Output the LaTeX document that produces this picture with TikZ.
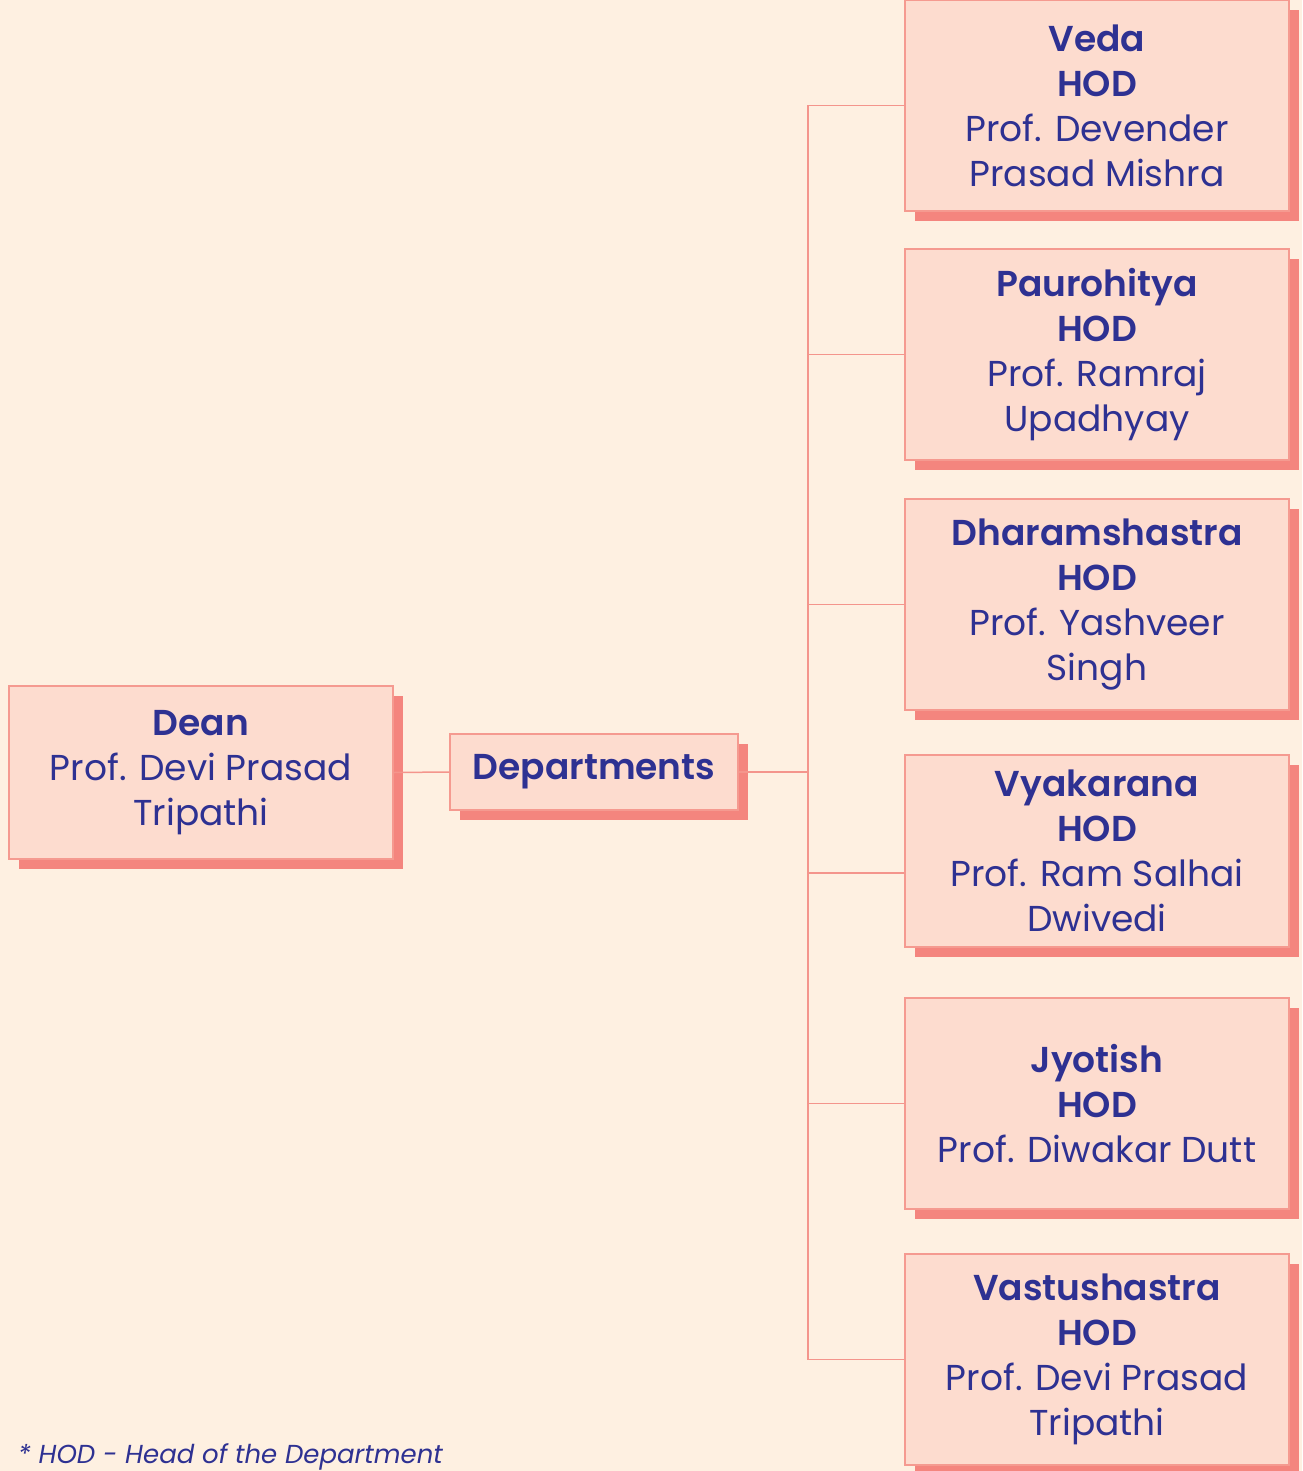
\documentclass[tikz,border=0pt]{standalone}
\usepackage{fontspec}
\setmainfont{Poppins}[BoldFont = {Poppins SemiBold}]
\usepackage{tikz}
\usetikzlibrary{shadows}

\definecolor{bgcream}{HTML}{FEF0E1}
\definecolor{boxfill}{HTML}{FDDCCF}
\definecolor{boxline}{HTML}{F59A90}
\definecolor{shadowred}{HTML}{F4857E}
\definecolor{navy}{HTML}{2E3192}
\definecolor{linkred}{HTML}{F4958C}

\tikzset{
  orgbox/.style = {draw = boxline, fill = boxfill, line width = 1.5pt, inner sep = 0pt,
                   align = center, text = navy, font = \fontsize{36}{45}\selectfont,
                   drop shadow = {shadow xshift = 10pt, shadow yshift = -10pt,
                                  fill = shadowred, opacity = 1}},
  deptbox/.style = {orgbox, minimum width = 384pt, minimum height = 211pt},
  link/.style = {draw = linkred, line width = 1.5pt}
}

\begin{document}
\begin{tikzpicture}[x = 1pt, y = -1pt]
        \fill[color = bgcream] (0,0) rectangle (1302,1471);
        \useasboundingbox (0,0) rectangle (1302,1471);
        % dean and departments
        \node[orgbox, minimum width = 384pt, minimum height = 173pt] (dean) at (201,772.5)
            {\textbf{Dean}\\Prof. Devi Prasad\\Tripathi};
        \node[orgbox, minimum width = 288pt, minimum height = 76pt] (depts) at (594,772)
            {\textbf{Departments}};
        \coordinate (trunk) at (808,772);
        % departments and their heads
        \node[deptbox] (veda) at (1097,105.5)
            {\textbf{Veda}\\\textbf{HOD}\\Prof. Devender\\Prasad Mishra};
        \node[deptbox] (paur) at (1097,354.5)
            {\textbf{Paurohitya}\\\textbf{HOD}\\Prof. Ramraj\\Upadhyay};
        \node[deptbox] (dharam) at (1097,604.5)
            {\textbf{Dharamshastra}\\\textbf{HOD}\\Prof. Yashveer\\Singh};
        \node[deptbox, minimum height = 192pt] (vyak) at (1097,851)
            {\textbf{Vyakarana}\\\textbf{HOD}\\Prof. Ram Salhai\\Dwivedi};
        \node[deptbox] (jyot) at (1097,1103.5)
            {\textbf{Jyotish}\\\textbf{HOD}\\Prof. Diwakar Dutt};
        \node[deptbox] (vastu) at (1097,1359.5)
            {\textbf{Vastushastra}\\\textbf{HOD}\\Prof. Devi Prasad\\Tripathi};
        % connectors
        \draw[link] (dean.east) -- (depts.west);
        \draw[link] (depts.east) -- (trunk);
        \draw[link] (veda.west) -| (trunk);
        \draw[link] (paur.west) -| (trunk);
        \draw[link] (dharam.west) -| (trunk);
        \draw[link] ([yshift = -22pt]vyak.west) -| (trunk);
        \draw[link] (jyot.west) -| (trunk);
        \draw[link] (vastu.west) -| (trunk);
        \node[anchor = base west, text = navy, inner sep = 0pt,
              font = \fontsize{26}{30}\selectfont\itshape] (note) at (18,1463)
            {* HOD - Head of the Department};
\end{tikzpicture}
\end{document}
